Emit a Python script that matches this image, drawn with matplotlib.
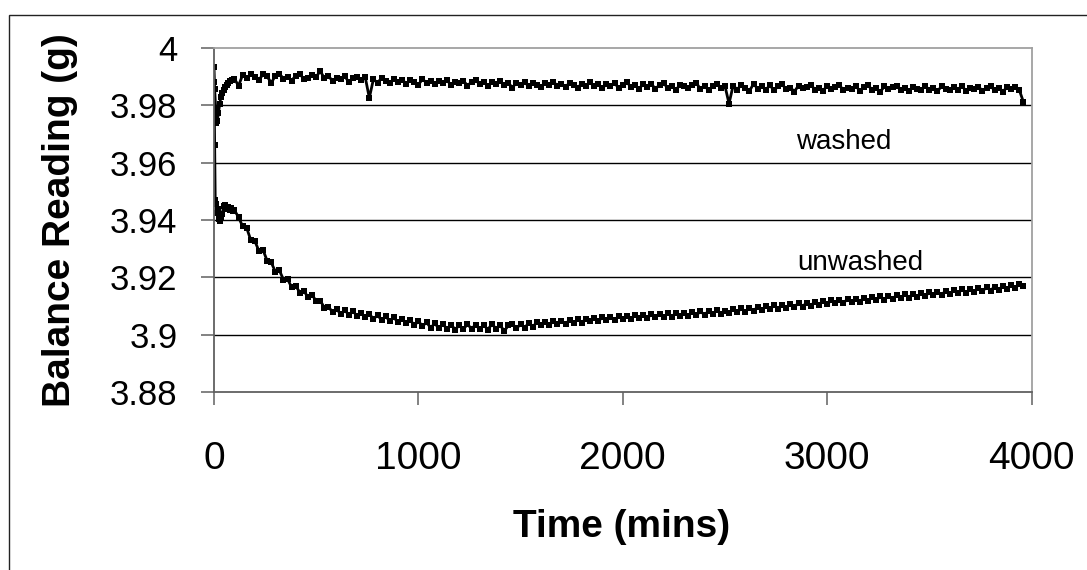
import numpy as np
import matplotlib
matplotlib.use("Agg")
import matplotlib.pyplot as plt
from matplotlib.patches import Rectangle

plt.rcParams['font.family'] = ['Liberation Sans', 'DejaVu Sans']

# ---- data (time in minutes, balance reading in g) ----
washed_time_early = [0, 3, 8, 12, 16, 22, 28, 34, 40, 47, 54, 62, 70, 78, 88, 100]
washed_early = [3.9934, 3.9858, 3.9790, 3.9738, 3.9745, 3.9775, 3.9805, 3.9830,
                3.9842, 3.9855, 3.9864, 3.9872, 3.9878, 3.9884, 3.9888, 3.9893]

unwashed_time_early = [0, 3, 6, 10, 15, 20, 25, 30, 35, 40, 47, 55, 62, 70, 78, 85, 92, 100]
unwashed_early = [3.9880, 3.9660, 3.9470, 3.9455, 3.9425, 3.9440, 3.9405, 3.9395, 3.9412,
                  3.9420, 3.9448, 3.9452, 3.9440, 3.9446, 3.9436, 3.9441, 3.9432, 3.9434]

# readings logged every 20 minutes from 120 to 3960 min
grid_time = np.arange(120, 3961, 20)

washed_grid = [
    3.9868, 3.9906, 3.9894, 3.9909, 3.9898, 3.9889, 3.9908, 3.9901, 3.9878, 3.9903,
    3.9910, 3.9893, 3.9900, 3.9886, 3.9904, 3.9909, 3.9892, 3.9897, 3.9907, 3.9899,
    3.9920, 3.9894, 3.9903, 3.9884, 3.9897, 3.9891, 3.9902, 3.9880, 3.9895, 3.9900,
    3.9887, 3.9898, 3.9826, 3.9891, 3.9879, 3.9895, 3.9884, 3.9877, 3.9893, 3.9881,
    3.9890, 3.9876, 3.9888, 3.9882, 3.9872, 3.9891, 3.9879, 3.9886, 3.9874, 3.9885,
    3.9879, 3.9888, 3.9870, 3.9883, 3.9877, 3.9886, 3.9869, 3.9881, 3.9889, 3.9873,
    3.9882, 3.9868, 3.9880, 3.9874, 3.9885, 3.9871, 3.9878, 3.9862, 3.9879, 3.9870,
    3.9881, 3.9866, 3.9877, 3.9872, 3.9865, 3.9879, 3.9870, 3.9883, 3.9868, 3.9874,
    3.9865, 3.9878, 3.9871, 3.9862, 3.9876, 3.9869, 3.9880, 3.9866, 3.9873, 3.9859,
    3.9875, 3.9867, 3.9878, 3.9860, 3.9872, 3.9881, 3.9864, 3.9870, 3.9856, 3.9876,
    3.9863, 3.9874, 3.9858, 3.9871, 3.9877, 3.9861, 3.9868, 3.9853, 3.9872, 3.9866,
    3.9859, 3.9872, 3.9878, 3.9857, 3.9869, 3.9852, 3.9866, 3.9874, 3.9860, 3.9868,
    3.9806, 3.9869, 3.9855, 3.9872, 3.9861, 3.9850, 3.9875, 3.9858, 3.9867, 3.9854,
    3.9870, 3.9852, 3.9866, 3.9873, 3.9856, 3.9862, 3.9848, 3.9869, 3.9859, 3.9865,
    3.9872, 3.9855, 3.9861, 3.9851, 3.9868, 3.9857, 3.9864, 3.9870, 3.9853, 3.9862,
    3.9856, 3.9868, 3.9850, 3.9863, 3.9870, 3.9854, 3.9860, 3.9847, 3.9866, 3.9857,
    3.9863, 3.9869, 3.9852, 3.9860, 3.9849, 3.9865, 3.9858, 3.9853, 3.9867, 3.9855,
    3.9861, 3.9850, 3.9866, 3.9858, 3.9852, 3.9864, 3.9855, 3.9868, 3.9849, 3.9862,
    3.9857, 3.9865, 3.9851, 3.9860, 3.9866, 3.9853, 3.9862, 3.9848, 3.9863, 3.9858,
    3.9865, 3.9854, 3.9813,
]

unwashed_grid = [
    3.9410, 3.9378, 3.9372, 3.9330, 3.9326, 3.9292, 3.9295, 3.9258, 3.9252, 3.9220,
    3.9224, 3.9192, 3.9194, 3.9165, 3.9170, 3.9147, 3.9153, 3.9130, 3.9140, 3.9116,
    3.9119, 3.9094, 3.9098, 3.9078, 3.9090, 3.9071, 3.9085, 3.9069, 3.9083, 3.9064,
    3.9076, 3.9060, 3.9073, 3.9054, 3.9068, 3.9051, 3.9064, 3.9047, 3.9060, 3.9043,
    3.9056, 3.9040, 3.9052, 3.9032, 3.9047, 3.9030, 3.9043, 3.9024, 3.9039, 3.9023,
    3.9037, 3.9020, 3.9035, 3.9018, 3.9033, 3.9019, 3.9036, 3.9021, 3.9034, 3.9019,
    3.9033, 3.9018, 3.9037, 3.9021, 3.9034, 3.9012, 3.9032, 3.9038, 3.9022, 3.9036,
    3.9025, 3.9040, 3.9028, 3.9043, 3.9032, 3.9045, 3.9033, 3.9047, 3.9036, 3.9049,
    3.9038, 3.9051, 3.9040, 3.9054, 3.9042, 3.9056, 3.9046, 3.9059, 3.9047, 3.9060,
    3.9050, 3.9063, 3.9051, 3.9065, 3.9054, 3.9066, 3.9055, 3.9069, 3.9057, 3.9067,
    3.9058, 3.9071, 3.9060, 3.9072, 3.9061, 3.9075, 3.9063, 3.9076, 3.9065, 3.9077,
    3.9066, 3.9079, 3.9068, 3.9081, 3.9070, 3.9082, 3.9072, 3.9085, 3.9073, 3.9084,
    3.9076, 3.9089, 3.9078, 3.9092, 3.9080, 3.9094, 3.9083, 3.9097, 3.9086, 3.9099,
    3.9088, 3.9102, 3.9091, 3.9105, 3.9094, 3.9108, 3.9096, 3.9111, 3.9098, 3.9112,
    3.9101, 3.9115, 3.9104, 3.9118, 3.9106, 3.9120, 3.9109, 3.9122, 3.9111, 3.9124,
    3.9113, 3.9126, 3.9115, 3.9129, 3.9118, 3.9131, 3.9120, 3.9134, 3.9122, 3.9136,
    3.9125, 3.9138, 3.9127, 3.9141, 3.9129, 3.9143, 3.9132, 3.9145, 3.9134, 3.9148,
    3.9137, 3.9150, 3.9139, 3.9153, 3.9141, 3.9156, 3.9144, 3.9158, 3.9146, 3.9161,
    3.9149, 3.9163, 3.9151, 3.9166, 3.9154, 3.9168, 3.9156, 3.9171, 3.9159, 3.9173,
    3.9162, 3.9176, 3.9170,
]

x_ticks = [0, 1000, 2000, 3000, 4000]
x_tick_labels = ['0', '1000', '2000', '3000', '4000']
y_ticks = [3.88, 3.90, 3.92, 3.94, 3.96, 3.98, 4.00]
y_tick_labels = ['3.88', '3.9', '3.92', '3.94', '3.96', '3.98', '4']

series_labels = ['washed', 'unwashed']
label_pos = [(3079, 3.9672), (3162, 3.9250)]

# ---- figure ----
W, H = 1087, 570
fig = plt.figure(figsize=(W / 100, H / 100), dpi=100)

# outer chart border (extends past right/bottom edges)
fig.patches.append(Rectangle((8.5 / W, -0.05), 1.2, 1 - 14.5 / H + 0.05,
                             transform=fig.transFigure, fill=False,
                             edgecolor='#222222', linewidth=1.0))

left, right, top, bottom = 214, 1031.5, 48, 392
ax = fig.add_axes([left / W, 1 - bottom / H, (right - left) / W, (bottom - top) / H])

washed_t = list(washed_time_early) + list(grid_time)
washed_v = list(washed_early) + list(washed_grid)
unwashed_t = list(unwashed_time_early) + list(grid_time)
unwashed_v = list(unwashed_early) + list(unwashed_grid)

ax.plot(unwashed_t, unwashed_v, color='black', lw=2.0, marker='s', ms=4, mew=0)
ax.plot(washed_t, washed_v, color='black', lw=2.0, marker='s', ms=4, mew=0)

ax.set_xlim(0, 4000)
ax.set_ylim(3.88, 4.00)
ax.set_xticks(x_ticks)
ax.set_xticklabels(x_tick_labels)
ax.set_yticks(y_ticks)
ax.set_yticklabels(y_tick_labels)

for v in y_ticks[1:-1]:
    ax.axhline(v, color='black', lw=1.0, zorder=0)

for side in ['left', 'bottom']:
    ax.spines[side].set_color('#606060')
    ax.spines[side].set_linewidth(1.3)
for side in ['top', 'right']:
    ax.spines[side].set_color('#a0a0a0')
    ax.spines[side].set_linewidth(1.3)

ax.tick_params(axis='both', direction='out', length=9.4, width=1.1, color='#606060')
ax.tick_params(axis='x', labelsize=28, pad=26)
ax.tick_params(axis='y', labelsize=25, pad=17)

for lab, (tx, ty) in zip(series_labels, label_pos):
    ax.text(tx, ty, lab, fontsize=20, ha='center', va='center', color='black')

fig.text(622 / W, 1 - 527 / H, 'Time (mins)', fontsize=28, fontweight='bold',
         ha='center', va='center')
fig.text(60 / W, 1 - 220 / H, 'Balance Reading (g)', fontsize=28, fontweight='bold',
         ha='center', va='center', rotation=90)

fig.savefig('out.png', dpi=100)
